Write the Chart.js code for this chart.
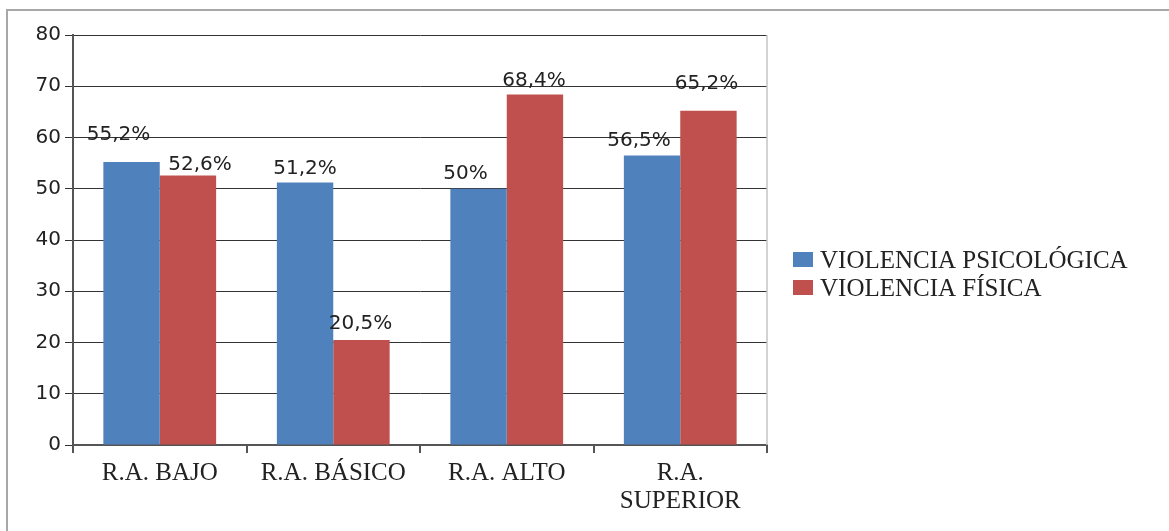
<!DOCTYPE html>
<html>
<head>
<meta charset="utf-8">
<script src="https://cdn.jsdelivr.net/npm/chart.js@4"></script>
<style>
  html, body { margin: 0; padding: 0; background: #fff; overflow: hidden; }
  #frame { position: absolute; left: 6px; top: 9px; width: 1170px; height: 540px;
           border-top: 2px solid #a8a8a8; border-left: 2px solid #a8a8a8; }
  #chart { position: absolute; left: 0; top: 0; }
</style>
</head>
<body>
<div id="frame"></div>
<canvas id="chart" width="1169" height="531"></canvas>
<script>
"use strict";

const categories = ["R.A. BAJO", "R.A. BÁSICO", "R.A. ALTO", ["R.A.", "SUPERIOR"]];
const seriesNames = ["VIOLENCIA PSICOLÓGICA", "VIOLENCIA FÍSICA"];
const psicologica = [55.2, 51.2, 50, 56.5];
const fisica = [52.6, 20.5, 68.4, 65.2];
const yTicks = [0, 10, 20, 30, 40, 50, 60, 70, 80];

const colors = ["#4F81BD", "#C0504D"];

// label nudges (x, up) per dataset, in px, to mimic the original placement
const labelShift = [
  [[-13, 27], [0, 14], [-13, 15], [-13, 15]],
  [[12, 10.5], [-1, 16], [-1, 13.5], [-2, 27]]
];

const fmt = v => String(v).replace(".", ",") + "%";

const extras = {
  id: "extras",
  beforeDatasetsDraw(chart) {
    const { ctx, chartArea } = chart;
    ctx.save();
    ctx.strokeStyle = "#c4c4c4";
    ctx.lineWidth = 1.5;
    ctx.beginPath();
    ctx.moveTo(chartArea.right, chartArea.top);
    ctx.lineTo(chartArea.right, chartArea.bottom);
    ctx.stroke();
    ctx.restore();
  },
  afterDraw(chart) {
    const { ctx, chartArea } = chart;
    ctx.save();
    // value labels
    ctx.font = "20px 'DejaVu Sans'";
    ctx.fillStyle = "#222";
    ctx.textAlign = "center";
    ctx.textBaseline = "middle";
    chart.data.datasets.forEach((ds, i) => {
      chart.getDatasetMeta(i).data.forEach((bar, j) => {
        const s = labelShift[i][j];
        ctx.fillText(fmt(ds.data[j]), bar.x + s[0], bar.y - s[1]);
      });
    });
    // legend
    ctx.font = "25px 'Liberation Serif'";
    ctx.textAlign = "left";
    const midY = (chartArea.top + chartArea.bottom) / 2;
    chart.data.datasets.forEach((ds, i) => {
      const y = midY + 20 + i * 28;
      ctx.fillStyle = ds.backgroundColor;
      ctx.fillRect(chartArea.right + 26, y - 8, 20, 15);
      ctx.fillStyle = "#222";
      ctx.fillText(ds.label, chartArea.right + 53, y + 1);
    });
    ctx.restore();
  }
};

new Chart(document.getElementById("chart").getContext("2d"), {
  type: "bar",
  data: {
    labels: categories,
    datasets: [
      { label: seriesNames[0], data: psicologica, backgroundColor: colors[0] },
      { label: seriesNames[1], data: fisica, backgroundColor: colors[1] }
    ]
  },
  options: {
    responsive: false,
    animation: false,
    devicePixelRatio: 1,
    categoryPercentage: 0.65,
    barPercentage: 1,
    layout: { padding: { top: 35, right: 402, bottom: 0, left: 0 } },
    plugins: {
      legend: { display: false },
      tooltip: { enabled: false }
    },
    scales: {
      x: {
        grid: {
          offset: true,
          drawOnChartArea: false,
          drawTicks: true,
          tickLength: 8,
          color: "#555",
          lineWidth: 2
        },
        border: { color: "#555", width: 2 },
        ticks: {
          color: "#222",
          padding: 6,
          maxRotation: 0,
          autoSkip: false,
          font: { family: "'Liberation Serif'", size: 25, lineHeight: 1.12 }
        },
        afterFit(scale) { scale.height = 86; }
      },
      y: {
        min: 0,
        max: 80,
        afterBuildTicks(scale) { scale.ticks = yTicks.map(v => ({ value: v })); },
        grid: { color: "#333", lineWidth: 1, tickLength: 8 },
        border: { color: "#555", width: 2 },
        ticks: {
          color: "#222",
          padding: 4,
          font: { family: "'DejaVu Sans'", size: 20 }
        },
        afterFit(scale) { scale.width = 73; }
      }
    }
  },
  plugins: [extras]
});
</script>
</body>
</html>
